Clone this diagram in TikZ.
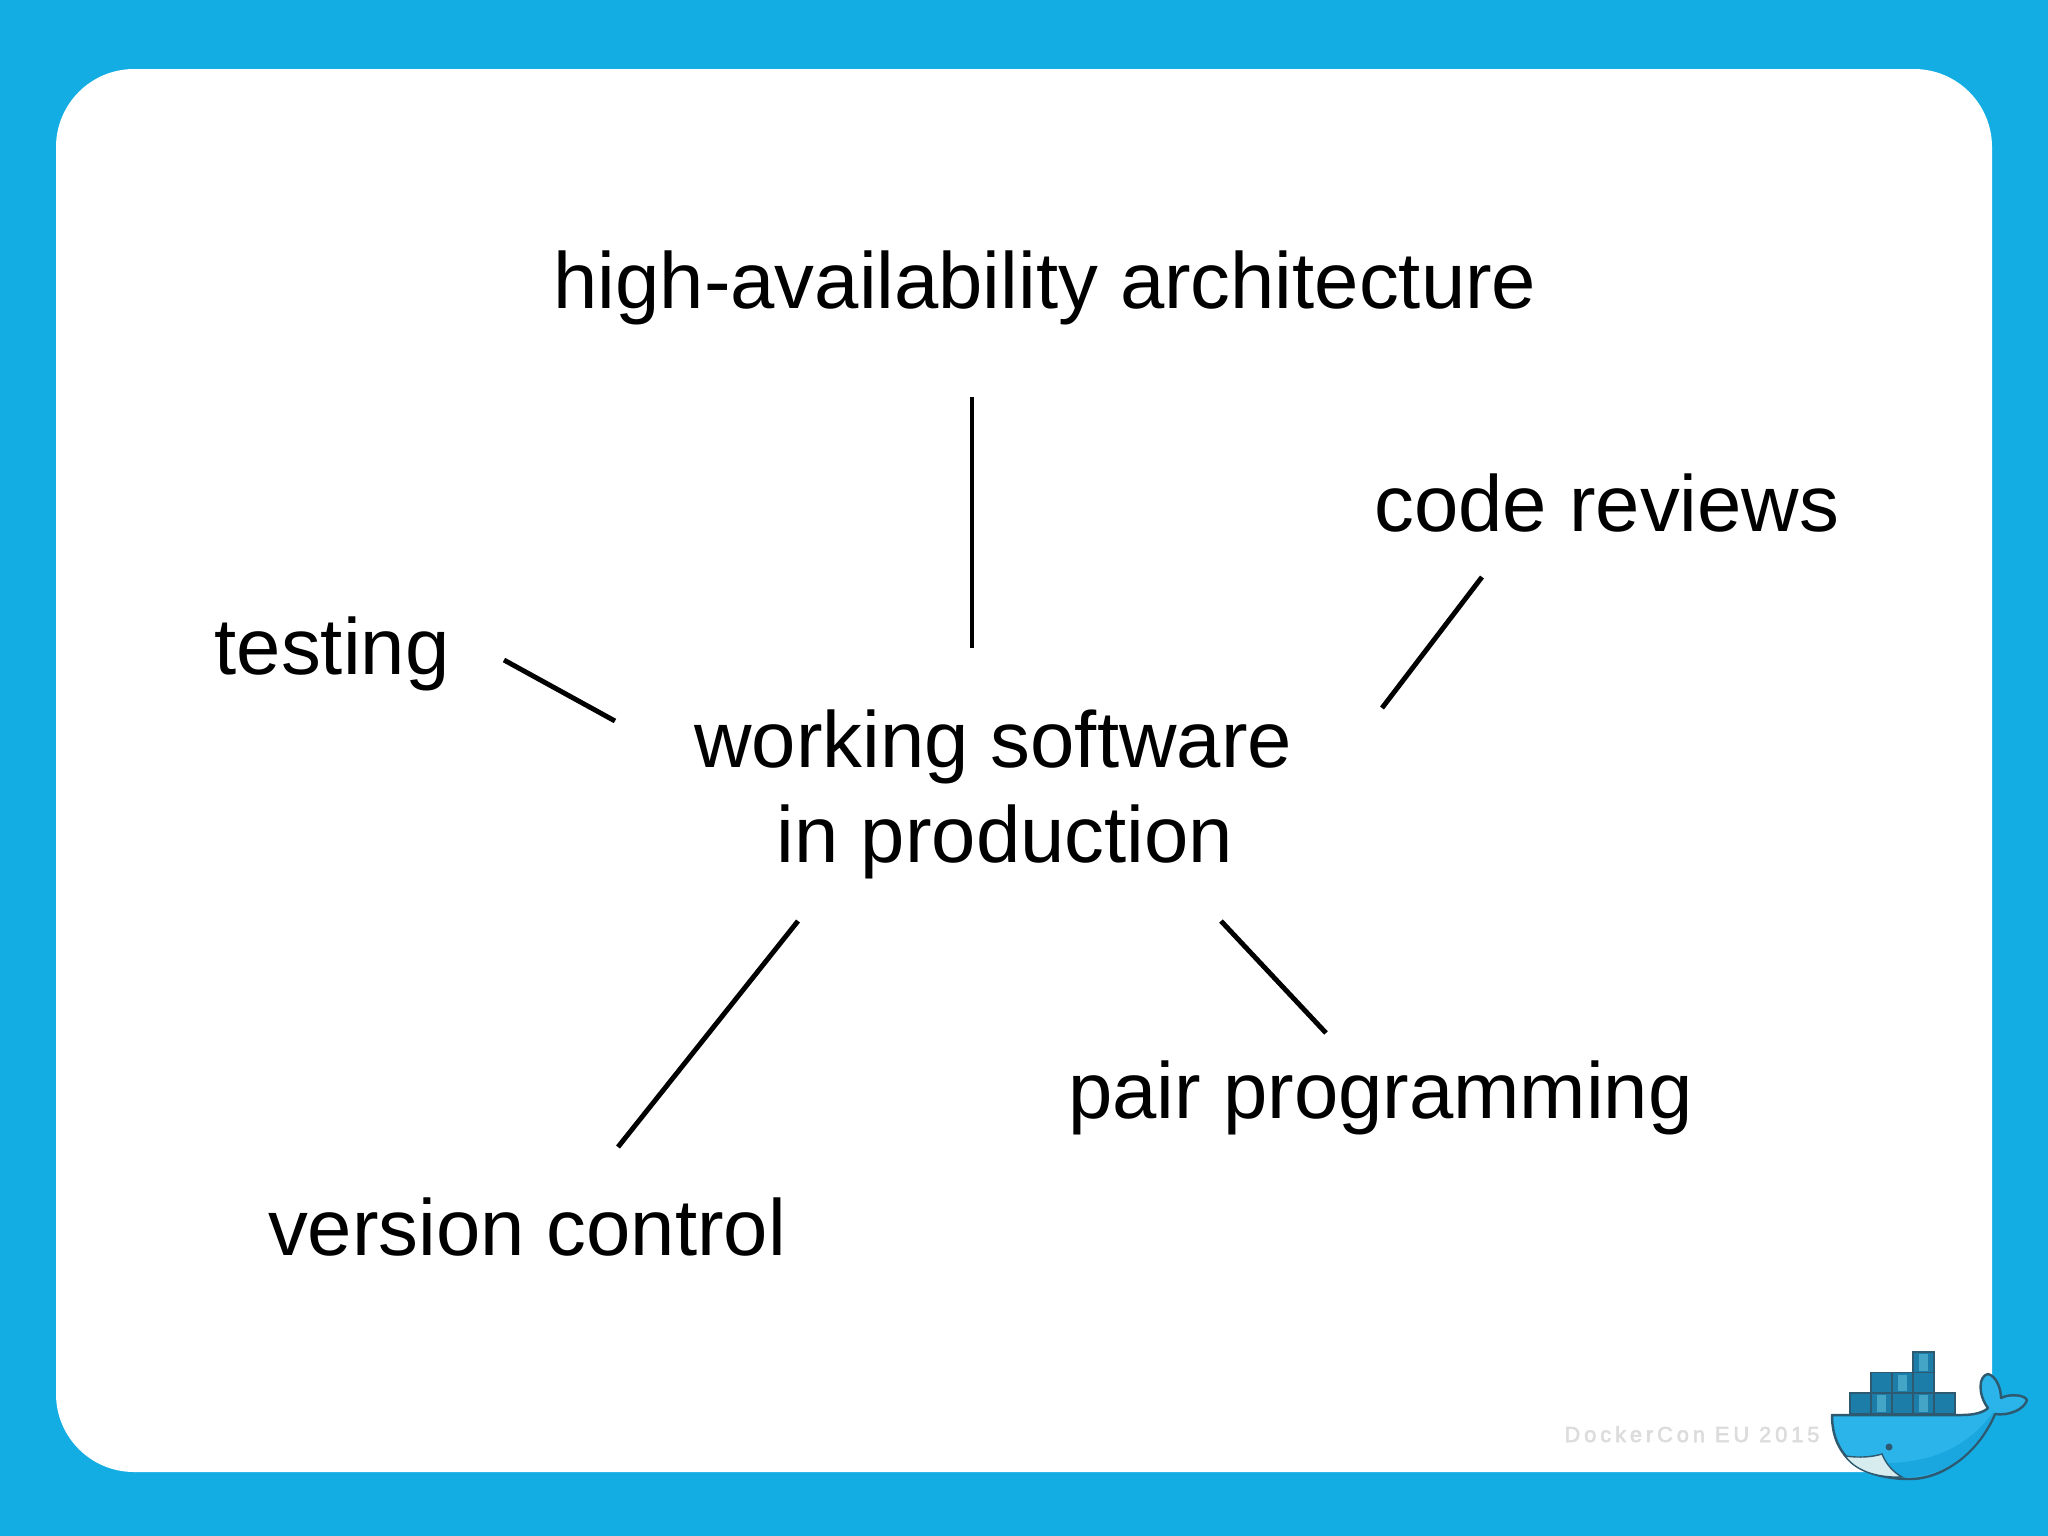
\documentclass[tikz,border=0pt]{standalone}
\usepackage{fontspec}
\setmainfont{Liberation Sans}
\usepackage{xcolor}
\usetikzlibrary{positioning}
\definecolor{slideblue}{HTML}{14ADE3}
\definecolor{hullblue}{HTML}{2AB4EA}
\definecolor{hullshade}{HTML}{1AA6DE}
\definecolor{boxdark}{HTML}{1B7DA8}
\definecolor{boxlight}{HTML}{45A5C6}
\definecolor{whaleline}{HTML}{2D5A70}
\definecolor{bellywhite}{HTML}{D6ECEE}
\definecolor{footgray}{HTML}{DCDCDC}
\newfontfamily\footfont[LetterSpace=18,FakeBold=2.5]{Liberation Sans}
\tikzset{topic node/.style={anchor=base,inner sep=0pt,font=\fontsize{22.65pt}{27pt}\selectfont,text=black},}
\tikzset{spoke/.style={draw,black,line width=1.4pt},}
\tikzset{crate/.style={draw=whaleline,line width=0.55pt},}

\begin{document}
\begin{tikzpicture}[x=0.01cm,y=-0.01cm]
    \useasboundingbox (0,0) rectangle (2048,1536);
    \fill[slideblue] (0,0) rectangle (2048,1536);
    \fill[white,rounded corners=0.78cm] (56,69) rectangle (1992,1472);

    \node[topic node] (ha) at (1045,308) {high-availability architecture};
    \node[topic node] (review) at (1607,531) {code reviews};
    \node[topic node] (test) at (332,674) {testing};
    \node[topic node,align=center] (work) at (1005,862) {working software\hspace*{0.236cm}\\in production};
    \node[topic node] (pair) at (1380.5,1118) {pair programming};
    \node[topic node] (vcs) at (527,1255) {version control};

    \coordinate (ha end) at (972,397);
    \coordinate (ha in) at (972,648);
    \coordinate (review end) at (1482,577);
    \coordinate (review in) at (1382,708);
    \coordinate (test end) at (504,660);
    \coordinate (test in) at (615,721);
    \coordinate (vcs in) at (798,921);
    \coordinate (vcs end) at (618,1147);
    \coordinate (pair in) at (1221,921);
    \coordinate (pair end) at (1326,1033);

    \path[spoke]
    (ha end) edge (ha in)
    (review end) edge (review in)
    (test end) edge (test in)
    (vcs in) edge (vcs end)
    (pair in) edge (pair end);

    \node[anchor=base,inner sep=0pt,text=footgray,font=\fontsize{6.2pt}{6pt}\footfont] (foot) at (1692,1442) {DockerCon EU 2015};

    % whale
    \draw[fill=hullblue,draw=whaleline,line width=0.7pt,line join=round]
      (1832,1415) -- (1962,1415) .. controls (1975,1415) and (1984,1412) .. (1988,1408)
      .. controls (1978,1395) and (1978,1376) .. (1988,1374)
      .. controls (1996,1376) and (2001,1388) .. (2001,1398)
      .. controls (2008,1394) and (2024,1394) .. (2027,1400)
      .. controls (2024,1410) and (2008,1416) .. (1995,1414)
      .. controls (1980,1450) and (1945,1479) .. (1910,1479)
      .. controls (1865,1479) and (1832,1460) .. cycle;
    \fill[hullshade]
      (1994,1411) .. controls (1970,1445) and (1935,1462) .. (1888,1463)
      .. controls (1892,1470) and (1897,1474) .. (1902,1477)
      .. controls (1945,1479) and (1980,1450) .. cycle;
    \draw[fill=bellywhite,draw=whaleline,line width=0.4pt]
      (1845,1456) .. controls (1860,1458) and (1872,1457) .. (1882,1454)
      .. controls (1886,1464) and (1893,1472) .. (1902,1477)
      .. controls (1875,1478) and (1855,1470) .. cycle;
    \fill[whaleline] (1889,1447) circle (3.5);
    \foreach \bx/\by in {1850/1393,1871/1393,1892/1393,1913/1393,1934/1393,1871/1372.5,1892/1372.5,1913/1372.5,1913/1352}
      \draw[crate,fill=boxdark] (\bx,\by) rectangle ++(21,20.5);
    \foreach \bx/\by in {1871/1393,1913/1393,1892/1372.5,1913/1352}
      \fill[boxlight] (\bx+6,\by+2) rectangle ++(9,16.5);
\end{tikzpicture}
\end{document}
